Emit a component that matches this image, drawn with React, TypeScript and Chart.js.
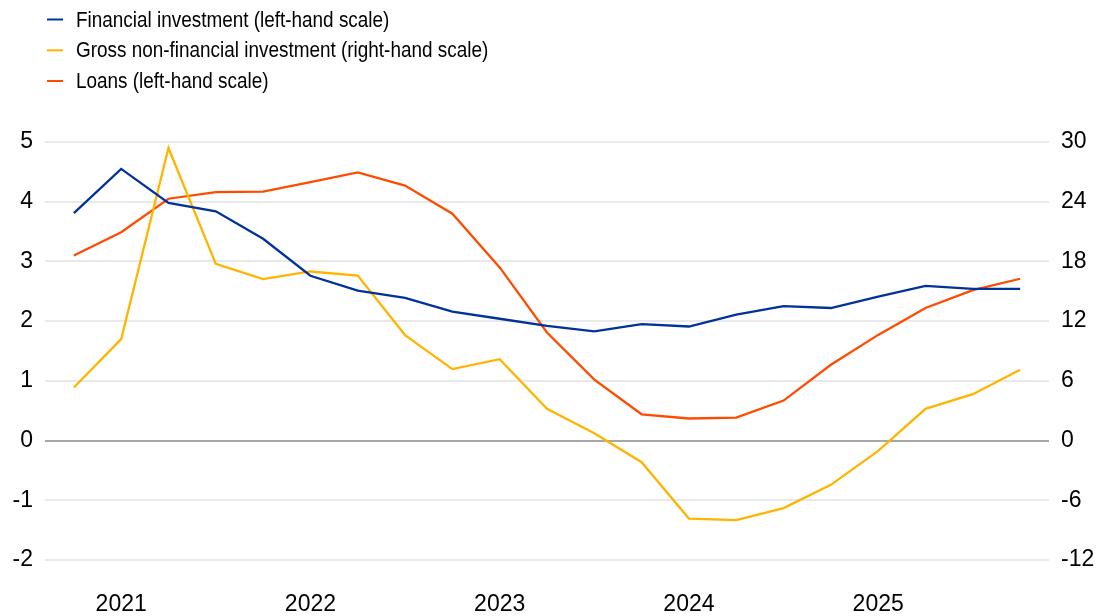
import React, { useEffect, useRef } from "react";
import { Chart, registerables } from "chart.js";

Chart.register(...registerables);

const quarters = [
  "2020 Q4",
  "2021 Q1", "2021 Q2", "2021 Q3", "2021 Q4",
  "2022 Q1", "2022 Q2", "2022 Q3", "2022 Q4",
  "2023 Q1", "2023 Q2", "2023 Q3", "2023 Q4",
  "2024 Q1", "2024 Q2", "2024 Q3", "2024 Q4",
  "2025 Q1", "2025 Q2", "2025 Q3", "2025 Q4",
];

const financialInvestment = [3.81, 4.55, 3.98, 3.84, 3.38, 2.76, 2.51, 2.39, 2.16, 2.04, 1.92, 1.83, 1.95, 1.91, 2.11, 2.25, 2.22, 2.41, 2.59, 2.54, 2.54];
const grossNonFinancialInvestment = [5.33, 10.19, 29.39, 17.76, 16.22, 16.99, 16.58, 10.6, 7.18, 8.18, 3.19, 0.74, -2.17, -7.84, -8.0, -6.79, -4.45, -1.04, 3.19, 4.66, 7.11];
const loans = [3.1, 3.49, 4.05, 4.16, 4.17, 4.33, 4.49, 4.27, 3.8, 2.9, 1.81, 1.02, 0.44, 0.37, 0.385, 0.67, 1.27, 1.77, 2.22, 2.52, 2.71];

const seriesLabels = [
  "Financial investment (left-hand scale)",
  "Gross non-financial investment (right-hand scale)",
  "Loans (left-hand scale)",
];

const FONT = "'Liberation Sans', Arial, Helvetica, sans-serif";

const legendPlugin = {
  id: "vlegend",
  afterDraw(chart: any) {
    const ctx = chart.ctx;
    const rows = [19.5, 50.3, 81];
    chart.data.datasets.forEach((ds: any, i: number) => {
      const y = rows[i];
      ctx.save();
      ctx.strokeStyle = ds.borderColor;
      ctx.lineWidth = 2;
      ctx.beginPath();
      ctx.moveTo(47, y);
      ctx.lineTo(63, y);
      ctx.stroke();
      ctx.translate(76, y + 1);
      ctx.scale(0.86, 1);
      ctx.fillStyle = "#000";
      ctx.font = `22px ${FONT}`;
      ctx.textBaseline = "middle";
      ctx.textAlign = "left";
      ctx.fillText(ds.label, 0, 0);
      ctx.restore();
    });
  },
};

export default function App() {
  const ref = useRef<HTMLCanvasElement | null>(null);

  useEffect(() => {
    document.body.style.margin = "0";
    const canvas = ref.current;
    if (!canvas) return;
    const toPts = (arr: number[]) => arr.map((v, i) => ({ x: i, y: v }));
    const yearIdx = quarters
      .map((q, i) => (q.endsWith("Q1") ? i : -1))
      .filter((i) => i >= 0);

    const chart = new Chart(canvas, {
      type: "line",
      data: {
        datasets: [
          {
            label: seriesLabels[0],
            data: toPts(financialInvestment),
            borderColor: "#003299",
            backgroundColor: "#003299",
            borderWidth: 2.3,
            pointRadius: 0,
            tension: 0,
            yAxisID: "y",
          },
          {
            label: seriesLabels[1],
            data: toPts(grossNonFinancialInvestment),
            borderColor: "#FFB400",
            backgroundColor: "#FFB400",
            borderWidth: 2.3,
            pointRadius: 0,
            tension: 0,
            yAxisID: "y1",
          },
          {
            label: seriesLabels[2],
            data: toPts(loans),
            borderColor: "#FF4B00",
            backgroundColor: "#FF4B00",
            borderWidth: 2.3,
            pointRadius: 0,
            tension: 0,
            yAxisID: "y",
          },
        ],
      },
      options: {
        responsive: false,
        animation: false,
        devicePixelRatio: 1,
        layout: { padding: { top: 142, left: 0, right: 0, bottom: 0 } },
        plugins: {
          legend: { display: false },
          tooltip: { enabled: false },
        },
        scales: {
          x: {
            type: "linear",
            min: -0.61,
            max: 20.61,
            grid: { display: false, drawTicks: false },
            border: { display: false },
            afterBuildTicks: (axis: any) => {
              axis.ticks = yearIdx.map((v) => ({ value: v }));
            },
            afterFit: (axis: any) => {
              axis.height = 56;
            },
            ticks: {
              autoSkip: false,
              maxRotation: 0,
              padding: 31,
              color: "#000",
              font: { family: FONT, size: 23 },
              callback: (v: any) => quarters[Math.round(Number(v))].slice(0, 4),
            },
          },
          y: {
            position: "left",
            min: -2,
            max: 5,
            afterFit: (axis: any) => {
              axis.width = 45;
            },
            grid: {
              drawTicks: false,
              lineWidth: 2,
              color: (c: any) => (c.tick && c.tick.value === 0 ? "#a6a6a6" : "#e9e9e9"),
            },
            border: { display: false },
            ticks: {
              stepSize: 1,
              padding: 12,
              color: "#000",
              font: { family: FONT, size: 23 },
            },
          },
          y1: {
            position: "right",
            min: -12,
            max: 30,
            afterFit: (axis: any) => {
              axis.width = 52;
            },
            grid: { display: false, drawTicks: false },
            border: { display: false },
            ticks: {
              stepSize: 6,
              padding: 12,
              color: "#000",
              font: { family: FONT, size: 23 },
            },
          },
        },
      },
      plugins: [legendPlugin],
    } as any);

    return () => chart.destroy();
  }, []);

  return (
    <div style={{ width: 1101, height: 616 }}>
      <canvas ref={ref} width={1101} height={616} style={{ display: "block" }} />
    </div>
  );
}
